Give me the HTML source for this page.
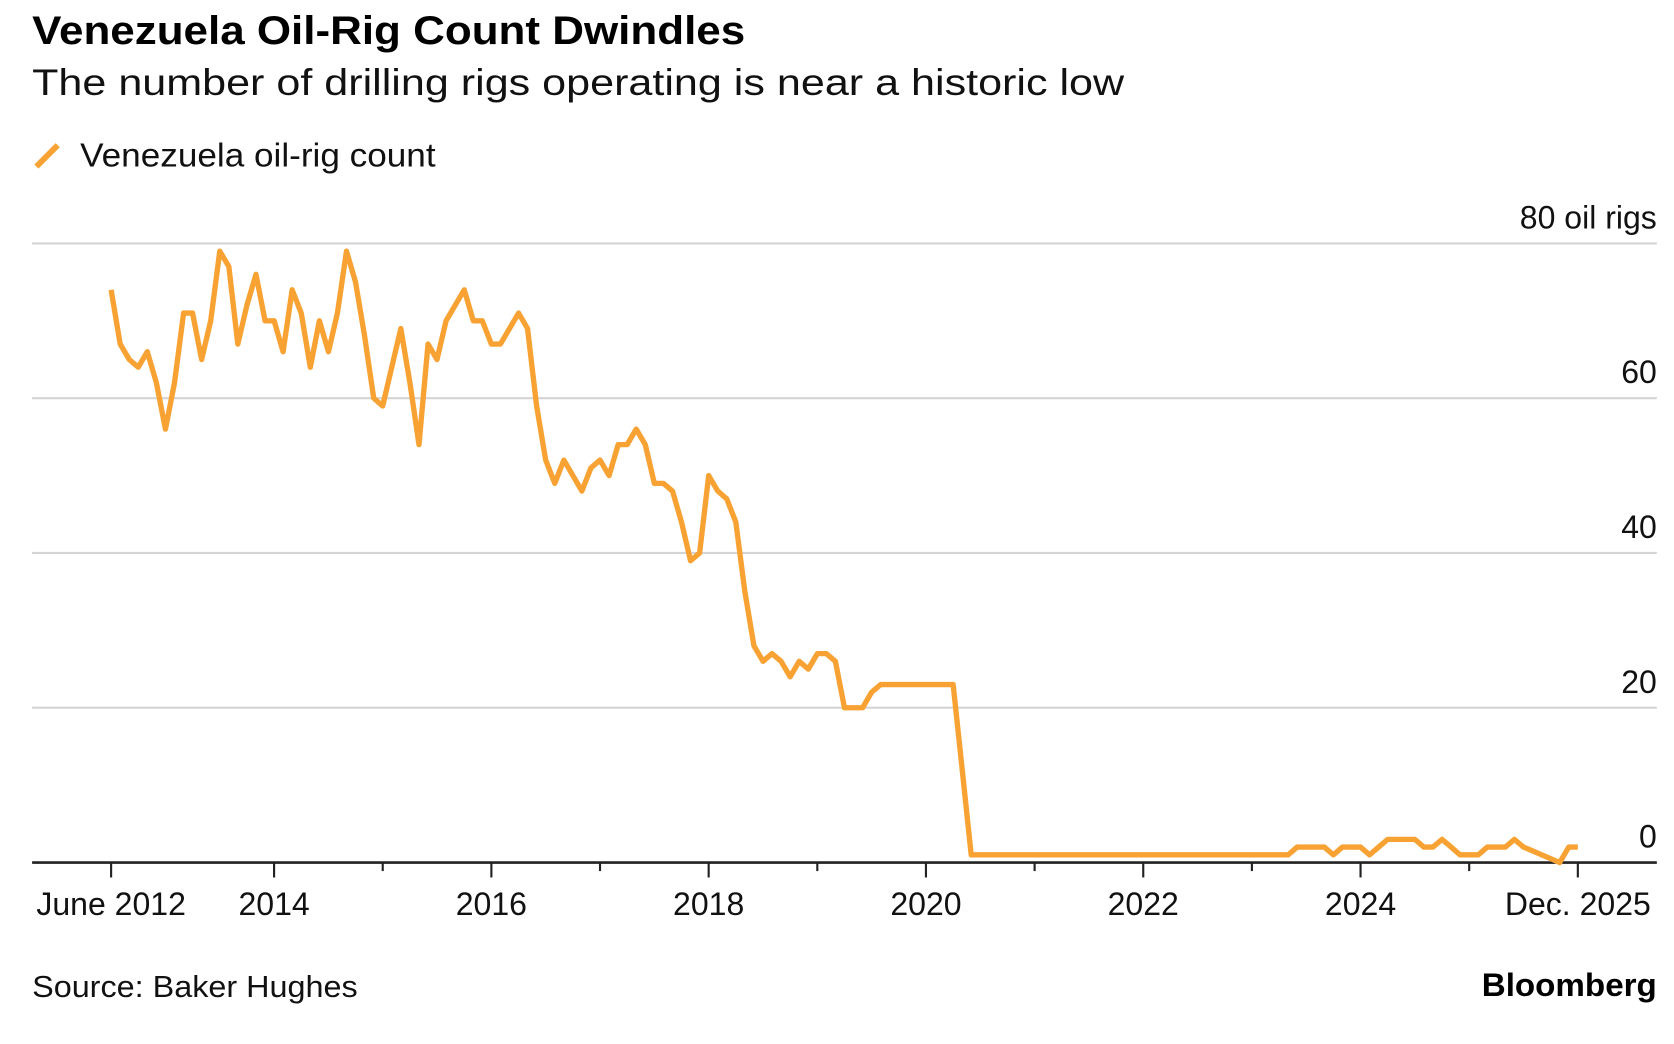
<!DOCTYPE html>
<html><head><meta charset="utf-8"><style>html,body{margin:0;padding:0;background:#fff}svg{display:block}</style></head>
<body>
<svg width="1674" height="1044" viewBox="0 0 1568 978" xmlns="http://www.w3.org/2000/svg" font-family="Liberation Sans, sans-serif">
<text x="30" y="41" font-size="37" font-weight="bold" fill="#000" textLength="668" lengthAdjust="spacingAndGlyphs">Venezuela Oil-Rig Count Dwindles</text>
<text x="30" y="89" font-size="35" fill="#111" textLength="1023" lengthAdjust="spacingAndGlyphs">The number of drilling rigs operating is near a historic low</text>
<line x1="34" y1="156" x2="54" y2="136" stroke="#f8a233" stroke-width="5.5"/>
<text x="75" y="156" font-size="31" fill="#111" textLength="333" lengthAdjust="spacingAndGlyphs">Venezuela oil-rig count</text>
<g id="grid"></g>
<g id="xaxis"></g>
<g id="series"></g>
<text x="30" y="934" font-size="29" fill="#111" textLength="305" lengthAdjust="spacingAndGlyphs">Source: Baker Hughes</text>
<text x="1388" y="933" font-size="30" font-weight="bold" fill="#000" textLength="164" lengthAdjust="spacingAndGlyphs">Bloomberg</text>
</svg>
<script>
const values = [74,67,65,64,66,62,56,62,71,71,
65,70,79,77,67,72,76,70,70,66,
74,71,64,70,66,71,79,75,68,60,
59,64,69,62,54,67,65,70,72,74,
70,70,67,67,69,71,69,59,52,49,
52,50,48,51,52,50,54,54,56,54,
49,49,48,44,39,40,50,48,47,44,
35,28,26,27,26,24,26,25,27,27,
26,20,20,20,22,23,23,23,23,23,
23,23,23,23,12,1,1,1,1,1,
1,1,1,1,1,1,1,1,1,1,
1,1,1,1,1,1,1,1,1,1,
1,1,1,1,1,1,1,1,1,1,
1,2,2,2,2,1,2,2,2,1,
2,3,3,3,3,2,2,3,2,1,
1,1,2,2,2,3,2,1.5,1,0.5,
0,2,2];
const yTicks = [0,20,40,60,80];
const yTickLabels = ["0","20","40","60","80 oil rigs"];
const xTickYears = [2014,2015,2016,2017,2018,2019,2020,2021,2022,2023,2024,2025];
const xMajorLabels = ["2014","2016","2018","2020","2022","2024"];
const startYear = 2012.5, endYear = 2026.0;
const X0 = 104, X1 = 1478, Y0 = 808, YTOP = 228;
const xYear = t => X0 + (t - startYear) / (endYear - startYear) * (X1 - X0);
const xIdx = i => X0 + i * (X1 - X0) / (values.length - 1);
const yV = v => Y0 - v / 80 * (Y0 - YTOP);
const NS = "http://www.w3.org/2000/svg";
function mk(tag, attrs, parent){const e=document.createElementNS(NS,tag);for(const k in attrs)e.setAttribute(k,attrs[k]);parent.appendChild(e);return e;}
const grid=document.getElementById('grid');
yTicks.forEach((v,i)=>{
  if(v>0){const l=mk('line',{x1:30,x2:1552,y1:yV(v),y2:yV(v),stroke:'#d4d4d4','stroke-width':2},grid);
  
  }
  const t=mk('text',{x:1552,y:yV(v)-14,'font-size':30,fill:'#111','text-anchor':'end'},grid);
  t.textContent=yTickLabels[i];
  
  
});
const xa=document.getElementById('xaxis');
const ax=mk('line',{x1:30,x2:1552,y1:Y0,y2:Y0,stroke:'#222','stroke-width':2.5},xa);


function tick(x,len){const l=mk('line',{x1:x,x2:x,y1:Y0,y2:Y0+len,stroke:'#222','stroke-width':2},xa);
  
  }
function lab(x,s){const t=mk('text',{x:x,y:857,'font-size':30,fill:'#111','text-anchor':'middle'},xa);t.textContent=s;
  
  }
tick(X0,14);tick(X1,14);
lab(X0,"June 2012");lab(X1,"Dec. 2025");
xTickYears.forEach(y=>{const major=xMajorLabels.includes(String(y));tick(xYear(y),major?14:8);if(major)lab(xYear(y),String(y));});
const d=values.map((v,i)=>(i?'L':'M')+xIdx(i).toFixed(1)+','+yV(v).toFixed(1)).join(' ');
const p=mk('path',{d:d,fill:'none',stroke:'#f8a233','stroke-width':5,'stroke-linejoin':'round'},document.getElementById('series'));


</script>
</body></html>
